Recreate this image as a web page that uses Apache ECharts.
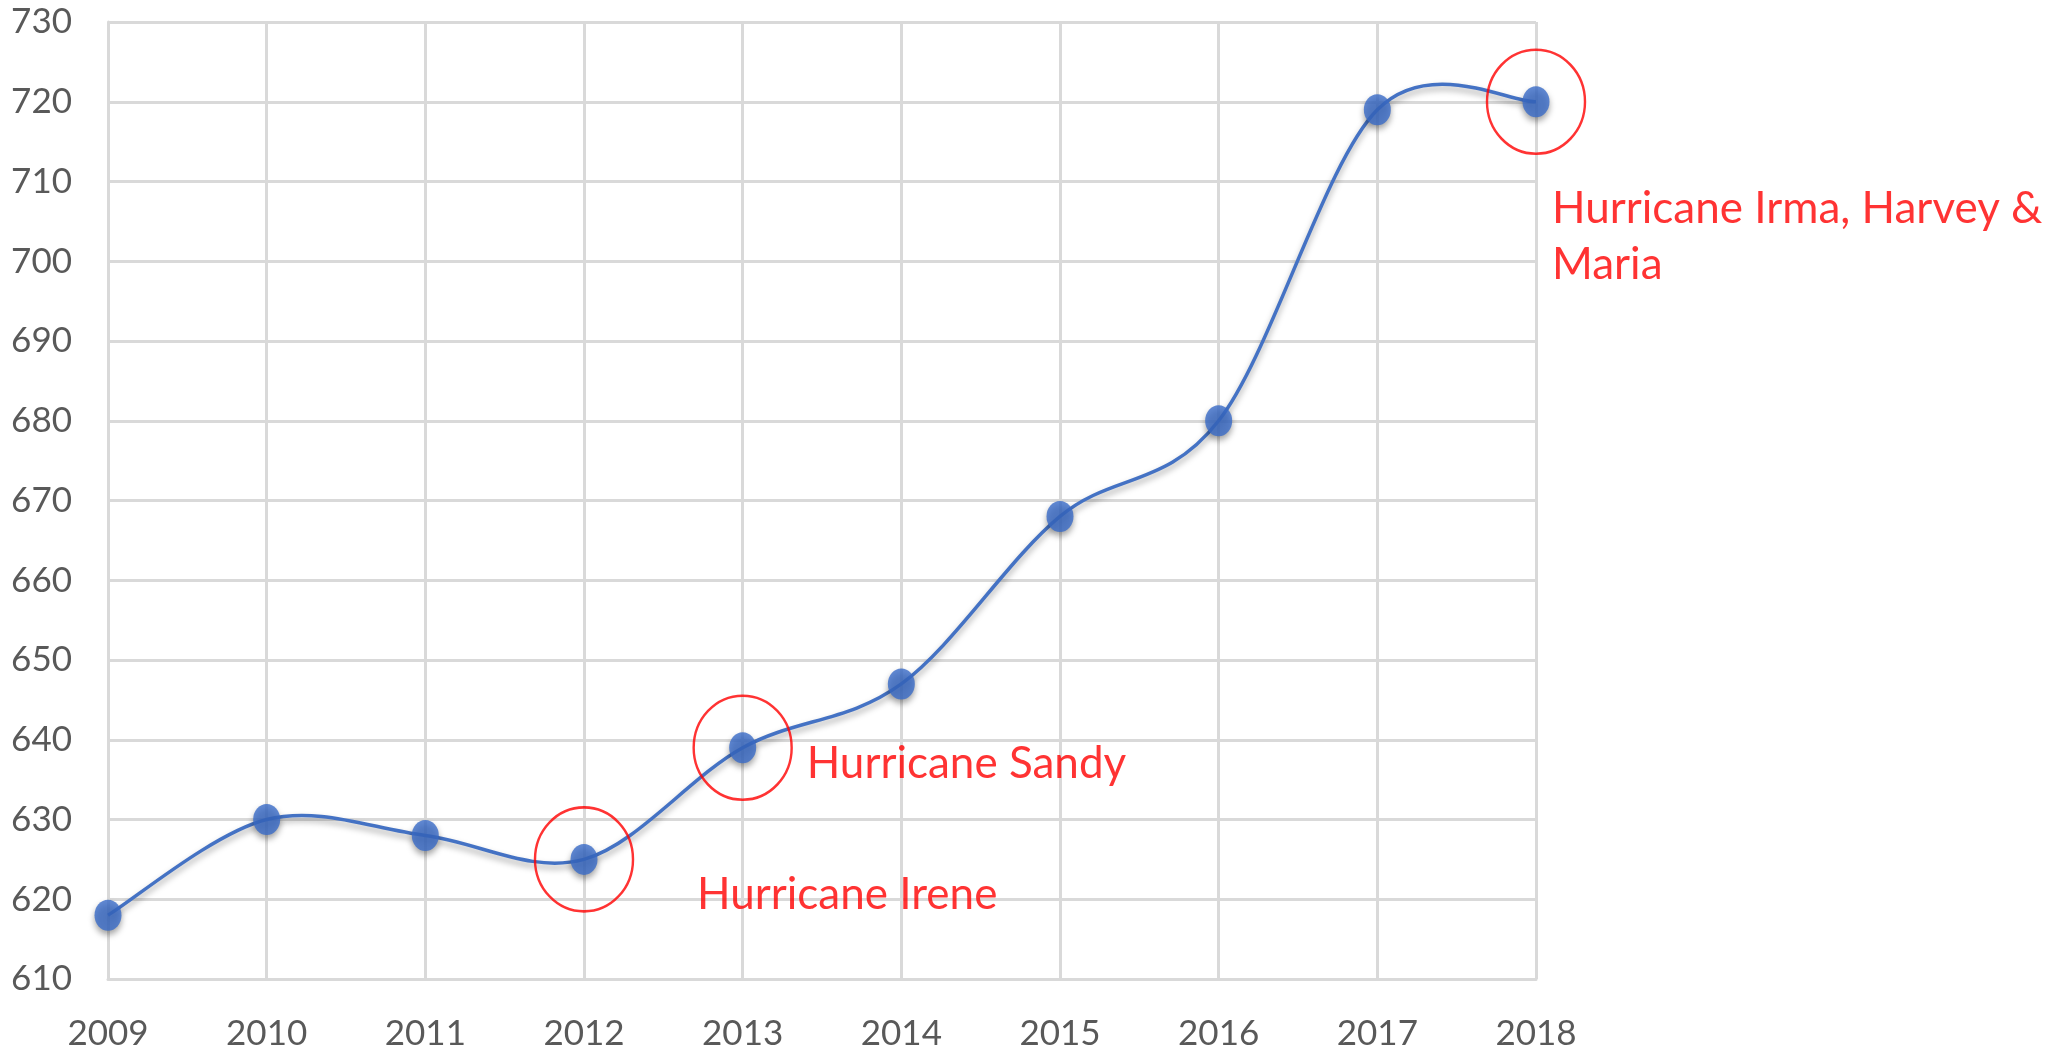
<!DOCTYPE html>
<html>
<head>
<meta charset="utf-8">
<style>
  html, body { margin: 0; padding: 0; background: #ffffff; }
  #chart { width: 2068px; height: 1053px; }
</style>
<script src="https://cdn.jsdelivr.net/npm/echarts@6/dist/echarts.min.js"></script>
</head>
<body>
<div id="chart"></div>
<script>
// Yearly series
const years = ['2009', '2010', '2011', '2012', '2013', '2014', '2015', '2016', '2017', '2018'];
const values = [618, 630, 628, 625, 639, 647, 668, 680, 719, 720];

// Value axis range
const yMin = 610;
const yMax = 730;
const yStep = 10;

// Years marked with a storm note
const eventYears = ['2012', '2013', '2018'];
const eventNotes = ['Hurricane Irene', 'Hurricane Sandy', 'Hurricane Irma, Harvey &\nMaria'];

// Where each note sits relative to its circled point
const noteOffsets = [[113, 35], [64, 16], [16, 135]];

const ELLIPSE = 'path://M0,50A50,50,0,1,1,100,50A50,50,0,1,1,0,50Z';
const LINE_BLUE = '#4472C4';
const GRID_GREY = '#d9d9d9';
const TEXT_GREY = '#595959';
const FONT = 'Lato, "Open Sans", sans-serif';

// Smooth curve through all points (Catmull-Rom style cubic segments),
// positioned with the chart's own axes via api.coord.
function renderCurve(params, api) {
  if (params.dataIndex !== 0) return null;
  const pts = values.map((v, i) => api.coord([i, v]));
  const n = pts.length;
  let d = 'M' + pts[0][0] + ',' + pts[0][1];
  for (let i = 0; i < n - 1; i++) {
    const p0 = pts[Math.max(i - 1, 0)];
    const p1 = pts[i];
    const p2 = pts[i + 1];
    const p3 = pts[Math.min(i + 2, n - 1)];
    const c1x = p1[0] + (p2[0] - p0[0]) / 6;
    const c1y = p1[1] + (p2[1] - p0[1]) / 6;
    const c2x = p2[0] - (p3[0] - p1[0]) / 6;
    const c2y = p2[1] - (p3[1] - p1[1]) / 6;
    d += 'C' + c1x + ',' + c1y + ' ' + c2x + ',' + c2y + ' ' + p2[0] + ',' + p2[1];
  }
  return {
    type: 'path',
    shape: { pathData: d },
    style: {
      fill: 'none',
      stroke: LINE_BLUE,
      lineWidth: 3.5,
      shadowColor: 'rgba(0,0,0,0.35)',
      shadowBlur: 6,
      shadowOffsetY: 4
    }
  };
}

const pointData = values.map((v, i) => [years[i], v]);

const eventData = eventYears.map((y, i) => ({
  value: [y, values[years.indexOf(y)]],
  name: eventNotes[i],
  label: { offset: noteOffsets[i] }
}));

const chart = echarts.init(document.getElementById('chart'), null, { renderer: 'canvas' });
chart.setOption({
  animation: false,
  backgroundColor: '#ffffff',
  grid: { left: 108, right: 532, top: 22, bottom: 74, containLabel: false },
  xAxis: {
    type: 'category',
    data: years,
    boundaryGap: false,
    axisLine: { show: true, lineStyle: { color: GRID_GREY, width: 3 } },
    axisTick: { show: false },
    axisLabel: { color: TEXT_GREY, fontSize: 35, fontFamily: FONT, margin: 37 },
    splitLine: { show: true, lineStyle: { color: GRID_GREY, width: 3 } }
  },
  yAxis: {
    type: 'value',
    min: yMin,
    max: yMax,
    interval: yStep,
    axisLine: { show: true, lineStyle: { color: GRID_GREY, width: 3 } },
    axisTick: { show: false },
    axisLabel: { color: TEXT_GREY, fontSize: 35, fontFamily: FONT, margin: 36 },
    splitLine: { show: true, lineStyle: { color: GRID_GREY, width: 3 } }
  },
  series: [
    {
      type: 'custom',
      renderItem: renderCurve,
      data: pointData,
      silent: true,
      z: 2
    },
    {
      type: 'scatter',
      data: pointData,
      symbol: ELLIPSE,
      symbolSize: [27, 31],
      itemStyle: {
        color: '#3a6cc8',
        shadowColor: 'rgba(0,0,0,0.45)',
        shadowBlur: 6,
        shadowOffsetY: 4
      },
      z: 3
    },
    {
      type: 'scatter',
      data: eventData,
      symbol: ELLIPSE,
      symbolSize: [98, 104],
      itemStyle: { color: 'rgba(0,0,0,0)', borderColor: '#ff0000', borderWidth: 2.5 },
      label: {
        show: true,
        position: 'inside',
        align: 'left',
        verticalAlign: 'middle',
        formatter: p => p.name,
        color: '#ff0000',
        fontSize: 44,
        fontFamily: FONT,
        lineHeight: 56
      },
      z: 4
    }
  ]
});
</script>
</body>
</html>
